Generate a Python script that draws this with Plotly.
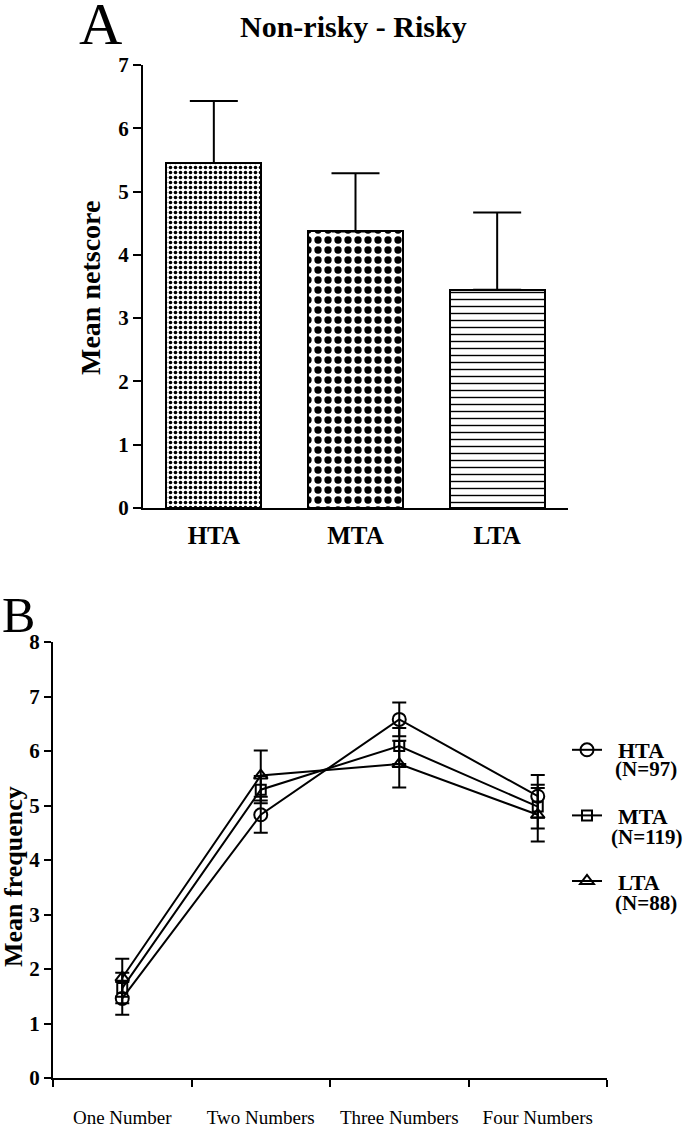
import plotly.graph_objects as go

W, H = 689, 1128

# ---- Panel A data ----
groups_a = ["HTA", "MTA", "LTA"]
netscore = [5.45, 4.37, 3.45]
netscore_err = [0.98, 0.92, 1.22]
patterns_a = [".", ".", "-"]

# ---- Panel B data ----
conditions = ["One Number", "Two Numbers", "Three Numbers", "Four Numbers"]
hta_freq = [1.46, 4.83, 6.58, 5.17]
hta_err = [0.30, 0.33, 0.31, 0.39]
mta_freq = [1.65, 5.29, 6.09, 4.98]
mta_err = [0.28, 0.25, 0.33, 0.40]
lta_freq = [1.84, 5.55, 5.76, 4.83]
lta_err = [0.35, 0.46, 0.43, 0.49]
series_names = ["HTA", "MTA", "LTA"]
series_n = ["(N=97)", "(N=119)", "(N=88)"]

SERIF = "Liberation Serif"
NB = "\u00a0"

def px(x):
    return x / W

def py(y):
    return 1 - y / H

fig = go.Figure()

pat_sizes = [5, 10, 7]
pat_sol = [0.4, 0.42, 0.2]
for i, g in enumerate(groups_a):
    fig.add_trace(go.Bar(
        x=[g], y=[netscore[i]], width=0.67,
        marker=dict(color="white",
                    line=dict(color="black", width=2),
                    pattern=dict(shape=patterns_a[i], size=pat_sizes[i],
                                 solidity=pat_sol[i], fgcolor="black",
                                 fgopacity=1, bgcolor="white",
                                 fillmode="overlay")),
        error_y=dict(type="data", symmetric=False, array=[netscore_err[i]],
                     arrayminus=[0], color="black", thickness=2, width=24),
        showlegend=False, xaxis="x", yaxis="y"))

b_data = [(hta_freq, hta_err, "circle-open", 13),
          (mta_freq, mta_err, "square-open", 10),
          (lta_freq, lta_err, "triangle-up-open", 12)]
for i, (vals, errs, sym, sz) in enumerate(b_data):
    fig.add_trace(go.Scatter(
        x=conditions, y=vals, mode="lines+markers",
        name=NB * 2 + series_names[i], legendgroup=series_names[i],
        line=dict(color="black", width=2),
        marker=dict(symbol=sym, size=sz, color="black",
                    line=dict(color="black", width=2)),
        error_y=dict(type="data", array=errs, color="black",
                     thickness=2, width=7),
        xaxis="x2", yaxis="y2"))

axis_common = dict(showgrid=False, zeroline=False, linecolor="black",
                   linewidth=2, automargin=False, showline=True)

fig.update_layout(
    width=W, height=H,
    margin=dict(l=0, r=0, t=0, b=0),
    paper_bgcolor="white", plot_bgcolor="white",
    font=dict(family=SERIF, color="black"),
    bargap=0,
    xaxis=dict(domain=[px(143), px(568)], anchor="y", type="category",
               range=[-0.5, 2.5], ticks="", ticklabelstandoff=4,
               tickfont=dict(size=25, family=SERIF, weight="bold"),
               **axis_common),
    yaxis=dict(domain=[py(508), py(65)], anchor="x", range=[0, 7], dtick=1,
               ticks="outside", ticklen=8, tickwidth=2, tickcolor="black",
               tickfont=dict(size=21, family=SERIF, weight="bold"),
               **axis_common),
    xaxis2=dict(domain=[px(53), px(607)], anchor="y2", type="category",
                range=[-0.5, 3.5], ticks="outside", tickson="boundaries",
                ticklen=7, tickwidth=2, tickcolor="black",
                ticklabelstandoff=21,
                tickfont=dict(size=19, family=SERIF),
                **axis_common),
    yaxis2=dict(domain=[py(1078), py(642)], anchor="x2", range=[0, 8], dtick=1,
                ticks="outside", ticklen=7, tickwidth=2, tickcolor="black",
                tickfont=dict(size=21, family=SERIF, weight="bold"),
                **axis_common),
    legend=dict(x=px(567), y=py(729), xanchor="left", yanchor="top",
                font=dict(size=22, family=SERIF, weight="bold"),
                tracegroupgap=34, bgcolor="rgba(0,0,0,0)", borderwidth=0),
)

ann = [
    dict(text="A", x=px(101), y=py(24), font=dict(size=60, family=SERIF)),
    dict(text="B", x=px(18), y=py(615), font=dict(size=50, family=SERIF)),
    dict(text="<b>Non-risky - Risky</b>", x=px(353), y=py(27),
         font=dict(size=30, family=SERIF)),
    dict(text="<b>Mean netscore</b>", x=px(91), y=py(288), textangle=-90,
         font=dict(size=28, family=SERIF)),
    dict(text="<b>Mean frequency</b>", x=px(13), y=py(877), textangle=-90,
         font=dict(size=26, family=SERIF)),
]
for i, (n, yy) in enumerate(zip(series_n, [769, 837, 903])):
    ann.append(dict(text="<b>" + n + "</b>", x=px(646), y=py(yy),
                    font=dict(size=21, family=SERIF)))
for a in ann:
    a.update(xref="paper", yref="paper", xanchor="center", yanchor="middle",
             showarrow=False)
fig.update_layout(annotations=ann)

fig.write_html("out.html",
               config={"displayModeBar": False},
               post_script="document.body.style.margin='0';"
                           "document.body.style.overflow='hidden';")
